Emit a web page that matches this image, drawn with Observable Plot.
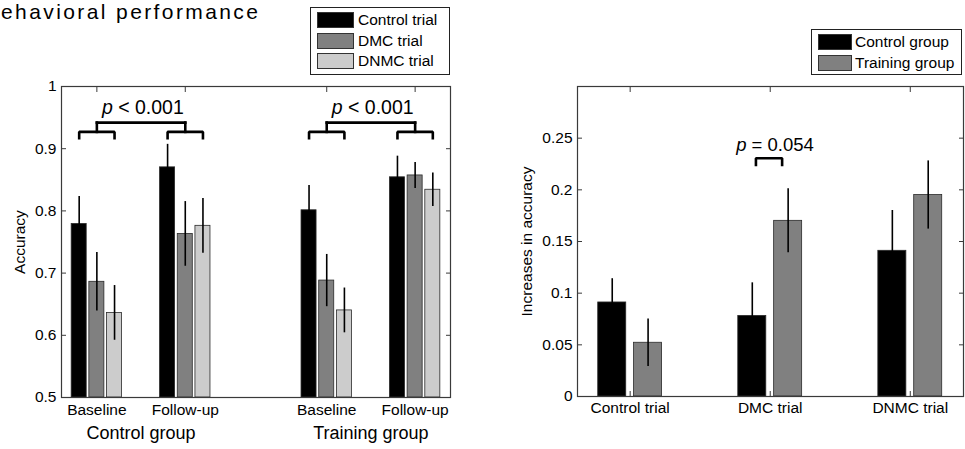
<!DOCTYPE html>
<html><head><meta charset="utf-8">
<script src="https://cdn.jsdelivr.net/npm/d3@7"></script>
<script src="https://cdn.jsdelivr.net/npm/@observablehq/plot@0.6"></script>
<style>
body{margin:0;background:#fff;}
#root{position:relative;width:965px;height:449px;overflow:hidden;font-family:"Liberation Sans",Arial,sans-serif;color:#000;background:#fff;}
.panel{position:absolute;top:0;}
.legend{position:absolute;border:1px solid #222;background:#fff;box-sizing:border-box;}
.sw{position:absolute;border:1px solid #333;box-sizing:border-box;}
.lt{position:absolute;font-size:15.5px;line-height:16px;white-space:nowrap;}
#title{position:absolute;left:1px;top:3px;font-size:21px;line-height:18px;letter-spacing:2.4px;white-space:nowrap;}
</style></head><body>
<div id="root">
  <div id="left" class="panel" style="left:0"></div>
  <div id="right" class="panel" style="left:480px"></div>
  <div id="title"></div>
</div>
<script>
// ---------- data ----------
const titleText = "ehavioral performance";
const leftSessions = ["Baseline", "Follow-up", "Baseline", "Follow-up"];
const leftGroupOfSession = ["Control group", "Control group", "Training group", "Training group"];
const leftGroups = ["Control group", "Training group"];
const trialTypes = ["Control trial", "DMC trial", "DNMC trial"];
const controlTrialAcc = [0.779, 0.870, 0.801, 0.854];
const controlTrialErr = [0.044, 0.037, 0.040, 0.034];
const dmcTrialAcc = [0.686, 0.763, 0.688, 0.857];
const dmcTrialErr = [0.047, 0.052, 0.042, 0.021];
const dnmcTrialAcc = [0.636, 0.776, 0.640, 0.834];
const dnmcTrialErr = [0.044, 0.044, 0.036, 0.027];
const leftYTicks = [0.5, 0.6, 0.7, 0.8, 0.9, 1];
const leftSigLabel = "p < 0.001";

const rightTrials = ["Control trial", "DMC trial", "DNMC trial"];
const rightGroups = ["Control group", "Training group"];
const controlGroupGain = [0.091, 0.078, 0.141];
const controlGroupErr = [0.023, 0.032, 0.039];
const trainingGroupGain = [0.052, 0.170, 0.195];
const trainingGroupErr = [0.023, 0.031, 0.033];
const rightYTicks = [0, 0.05, 0.1, 0.15, 0.2, 0.25];
const rightSigLabel = "p = 0.054";

// ---------- styles ----------
const trialColors = ["#000000", "#808080", "#cccccc"];
const groupColors = ["#000000", "#808080"];
const axisColor = "#3a3a3a";
const fontFamily = '"Liberation Sans", Arial, sans-serif';

document.getElementById("title").textContent = titleText;

function italicP(svg, label) {
  d3.select(svg).selectAll("text").each(function () {
    if (this.textContent !== label) return;
    const sel = d3.select(this);
    sel.text(null);
    sel.append("tspan").attr("font-style", "italic").text(label.slice(0, 1));
    sel.append("tspan").text(label.slice(1));
  });
}

// ---------- left panel ----------
const sessionPos = leftSessions.map((s, i) => 1 + i + (i >= 2 ? 0.6 : 0));
const leftAcc = [controlTrialAcc, dmcTrialAcc, dnmcTrialAcc];
const leftErr = [controlTrialErr, dmcTrialErr, dnmcTrialErr];
const leftRows = [];
leftSessions.forEach((s, i) => {
  trialTypes.forEach((t, j) => {
    leftRows.push({session: s, group: leftGroupOfSession[i], trial: t,
      x: sessionPos[i] + (j - 1) * 0.2, value: leftAcc[j][i], err: leftErr[j][i]});
  });
});
const groupCenters = leftGroups.map(g => d3.mean(sessionPos.filter((p, i) => leftGroupOfSession[i] === g)));

// bracket geometry (annotation)
const bLow = 0.917, bMid = 0.927, bTop = 0.942;
const leftBrackets = [];
leftGroups.forEach((g, gi) => {
  const ps = sessionPos.filter((p, i) => leftGroupOfSession[i] === g);
  ps.forEach((p, k) => {
    const id = g + k;
    leftBrackets.push({id: id + "a", x: p - 0.2, y: bLow}, {id: id + "a", x: p - 0.2, y: bMid},
                      {id: id + "a", x: p + 0.2, y: bMid}, {id: id + "a", x: p + 0.2, y: bLow});
    leftBrackets.push({id: id + "s", x: p, y: bMid}, {id: id + "s", x: p, y: bTop});
  });
  leftBrackets.push({id: g + "t", x: ps[0], y: bTop}, {id: g + "t", x: ps[1], y: bTop});
});

const leftPlot = Plot.plot({
  width: 480, height: 449,
  marginLeft: 61, marginRight: 30, marginTop: 86, marginBottom: 52,
  x: {domain: [0.6, 5.0]},
  y: {domain: [0.5, 1]},
  color: {domain: trialTypes, range: trialColors},
  style: {fontFamily, fontSize: "15.5px", color: "#000", background: "transparent", overflow: "visible"},
  marks: [
    Plot.axisY({ticks: leftYTicks, tickFormat: d => String(d), tickSize: -5, tickPadding: 10, label: null, stroke: axisColor}),
    Plot.axisY({anchor: "right", ticks: leftYTicks, tickFormat: () => "", tickSize: -5, label: null, stroke: axisColor}),
    Plot.axisX({anchor: "top", ticks: sessionPos, tickFormat: () => "", tickSize: -5, label: null, stroke: axisColor}),
    Plot.axisX({anchor: "bottom", ticks: sessionPos, tickFormat: d => leftSessions[sessionPos.indexOf(d)], tickSize: -5, tickPadding: 11, label: null, stroke: axisColor}),
    Plot.rect(leftRows, {x1: d => d.x - 0.085, x2: d => d.x + 0.085, y1: () => 0.5, y2: "value", fill: "trial", stroke: "#2a2a2a", strokeWidth: 0.8}),
    Plot.ruleX(leftRows, {x: "x", y1: d => d.value - d.err, y2: d => d.value + d.err, stroke: "#000", strokeWidth: 1.6}),
    Plot.line(leftBrackets, {x: "x", y: "y", z: "id", stroke: "#000", strokeWidth: 2.6, strokeLinejoin: "miter", strokeLinecap: "square"}),
    Plot.text(groupCenters, {x: d => d + 0.02, y: () => 0.966, text: () => leftSigLabel, fontSize: 19.5}),
    Plot.text(leftGroups, {x: (d, i) => groupCenters[i], frameAnchor: "bottom", dy: 41, text: d => d, fontSize: 18}),
    Plot.text(["Accuracy"], {frameAnchor: "left", textAnchor: "middle", rotate: -90, dx: -41, text: d => d, fontSize: 15.5}),
    Plot.frame({stroke: axisColor, strokeWidth: 1.2})
  ]
});
italicP(leftPlot, leftSigLabel);
document.getElementById("left").append(leftPlot);

// ---------- right panel ----------
const rightGain = [controlGroupGain, trainingGroupGain];
const rightErrs = [controlGroupErr, trainingGroupErr];
const trialPos = rightTrials.map((t, i) => i + 1);
const rightRows = [];
rightTrials.forEach((t, i) => {
  rightGroups.forEach((g, j) => {
    rightRows.push({trial: t, group: g, x: trialPos[i] + (j === 0 ? -0.128 : 0.128),
      value: rightGain[j][i], err: rightErrs[j][i]});
  });
});
const sigX = trialPos[rightTrials.indexOf("DMC trial")];
const rLow = 0.224, rTop = 0.2305;
const rightBracket = [
  {x: sigX - 0.102, y: rLow}, {x: sigX - 0.102, y: rTop},
  {x: sigX + 0.085, y: rTop}, {x: sigX + 0.085, y: rLow}
];

const rightPlot = Plot.plot({
  width: 485, height: 449,
  marginLeft: 97, marginRight: 2, marginTop: 86, marginBottom: 53,
  x: {domain: [0.624, 3.38]},
  y: {domain: [0, 0.3]},
  color: {domain: rightGroups, range: groupColors},
  style: {fontFamily, fontSize: "15.5px", color: "#000", background: "transparent", overflow: "visible"},
  marks: [
    Plot.axisY({ticks: rightYTicks, tickFormat: d => String(d), tickSize: -5, tickPadding: 10, label: null, stroke: axisColor}),
    Plot.axisY({anchor: "right", ticks: rightYTicks, tickFormat: () => "", tickSize: -5, label: null, stroke: axisColor}),
    Plot.axisX({anchor: "top", ticks: trialPos, tickFormat: () => "", tickSize: -5, label: null, stroke: axisColor}),
    Plot.axisX({anchor: "bottom", ticks: trialPos, tickFormat: d => rightTrials[trialPos.indexOf(d)], tickSize: -5, tickPadding: 10, label: null, stroke: axisColor}),
    Plot.rect(rightRows, {x1: d => d.x - 0.1, x2: d => d.x + 0.1, y1: () => 0, y2: "value", fill: "group", stroke: "#2a2a2a", strokeWidth: 0.8}),
    Plot.ruleX(rightRows, {x: "x", y1: d => d.value - d.err, y2: d => d.value + d.err, stroke: "#000", strokeWidth: 1.6}),
    Plot.line(rightBracket, {x: "x", y: "y", stroke: "#000", strokeWidth: 2.6, strokeLinejoin: "miter", strokeLinecap: "square"}),
    Plot.text([sigX], {x: d => d + 0.034, y: () => 0.2437, text: () => rightSigLabel, fontSize: 18.5}),
    Plot.text(["Increases in accuracy"], {frameAnchor: "left", textAnchor: "middle", rotate: -90, dx: -50, text: d => d, fontSize: 15.5}),
    Plot.frame({stroke: axisColor, strokeWidth: 1.2})
  ]
});
italicP(rightPlot, rightSigLabel);
document.getElementById("right").append(rightPlot);

// ---------- legends ----------
function legend(opts) {
  const box = document.createElement("div");
  box.className = "legend";
  Object.assign(box.style, {left: opts.left + "px", top: opts.top + "px", width: opts.width + "px", height: opts.height + "px"});
  opts.labels.forEach((lab, i) => {
    const sw = document.createElement("div");
    sw.className = "sw";
    Object.assign(sw.style, {left: opts.swLeft + "px", top: (opts.rowTop + i * opts.rowStep) + "px",
      width: opts.swWidth + "px", height: opts.swHeight + "px", background: opts.colors[i]});
    const tx = document.createElement("div");
    tx.className = "lt";
    tx.textContent = lab;
    Object.assign(tx.style, {left: opts.textLeft + "px", top: (opts.rowTop + i * opts.rowStep) + "px"});
    box.append(sw, tx);
  });
  document.getElementById("root").append(box);
}
legend({left: 310, top: 7, width: 140, height: 68, labels: trialTypes, colors: trialColors,
  swLeft: 6, swWidth: 37, swHeight: 16, rowTop: 4, rowStep: 20.5, textLeft: 47});
legend({left: 811, top: 29, width: 151, height: 46, labels: rightGroups, colors: groupColors,
  swLeft: 6, swWidth: 34, swHeight: 16, rowTop: 4, rowStep: 21, textLeft: 43});
</script>
</body></html>
